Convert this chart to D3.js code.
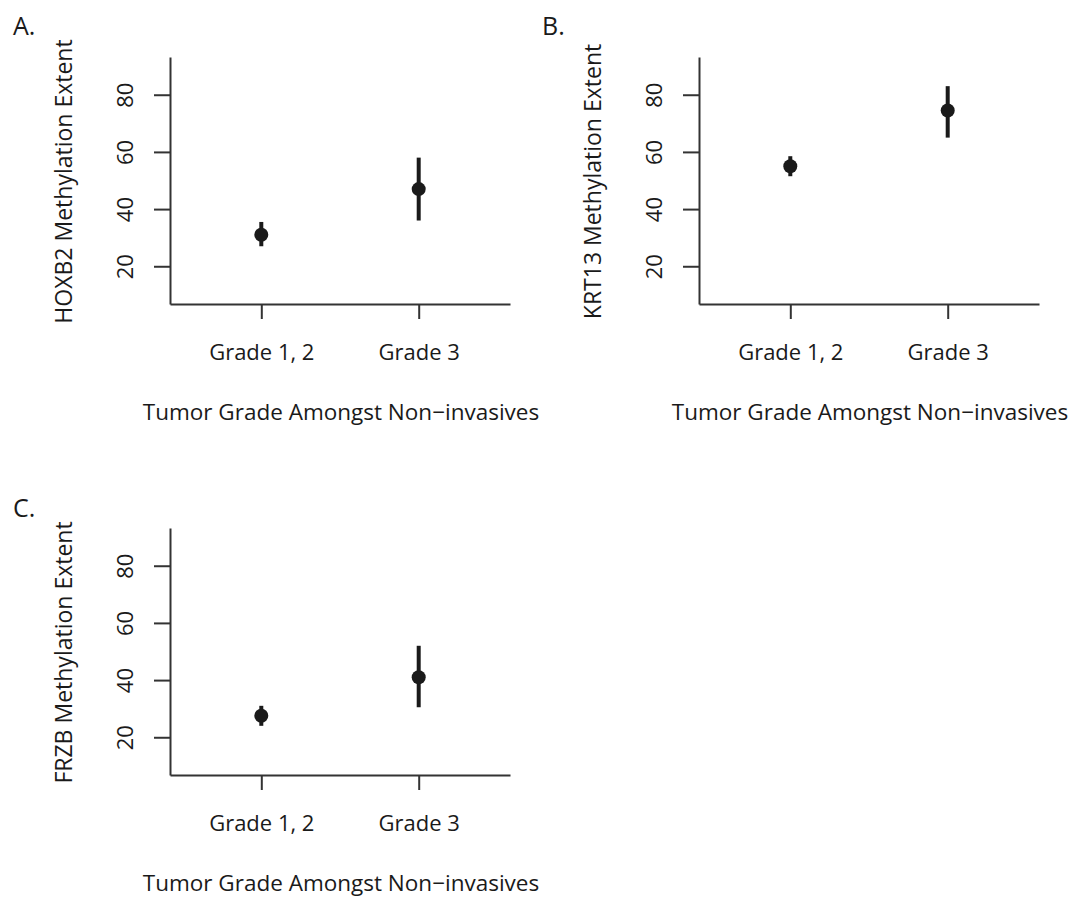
<html>
<head>
<title>methylation by grade</title>
<script src="https://cdnjs.cloudflare.com/ajax/libs/d3/7.8.5/d3.min.js"></script>
<style>
  body { margin:0; padding:0; background:#fff; }
  text { font-family: "Open Sans", "Noto Sans", sans-serif; fill:#1a1a1a; }
  .axis path, .axis line { stroke:#333; stroke-width:2; }
</style>
</head>
<body>
<svg id="chart" width="1072" height="898"></svg>
<script>
// data
var categories = ["Grade 1, 2", "Grade 3"];
var catPos = [1, 2];
var genes = ["HOXB2", "KRT13", "FRZB"];
var letters = ["A.", "B.", "C."];
var yTicks = [20, 40, 60, 80];

var means = {HOXB2: [31, 47], KRT13: [55, 74.5], FRZB: [27.5, 41]};
var lower = {HOXB2: [27, 36], KRT13: [51.5, 65], FRZB: [24, 30.5]};
var upper = {HOXB2: [35.5, 58], KRT13: [58.5, 83], FRZB: [31, 52]};

var xTitle = "Tumor Grade Amongst Non\u2212invasives";

// panel placement
var panels = [
  {gene: "HOXB2", dx: 0,   dy: 0,   letterY: 35},
  {gene: "KRT13", dx: 529, dy: 0,   letterY: 35},
  {gene: "FRZB",  dx: 0,   dy: 471, letterY: 46}
];

var svg = d3.select("#chart");

var x = d3.scaleLinear().domain([0.42, 2.58]).range([170, 510]);
var y = d3.scaleLinear().domain([6.8, 93.2]).range([304, 57]);

panels.forEach(function(p, i) {
  var g = svg.append("g").attr("transform", "translate(" + p.dx + "," + p.dy + ")");

  g.append("text")
    .attr("x", 13).attr("y", p.letterY)
    .style("font-size", "25px")
    .text(letters[i]);

  // y axis
  var ya = g.append("g").attr("class", "axis")
    .attr("transform", "translate(170,0)")
    .call(d3.axisLeft(y).tickValues(yTicks).tickSize(16).tickSizeOuter(0));
  ya.selectAll("text")
    .attr("x", null).attr("dy", null).attr("y", 0)
    .attr("transform", "translate(-37,0) rotate(-90)")
    .attr("text-anchor", "middle")
    .style("font-size", "22px")
    .style("font-family", null);

  // x axis
  var xa = g.append("g").attr("class", "axis")
    .attr("transform", "translate(0,304)")
    .call(d3.axisBottom(x).tickValues(catPos).tickSize(15).tickSizeOuter(0)
      .tickFormat(function(d, j) { return categories[j]; }));
  xa.selectAll("text")
    .attr("dy", null).attr("y", 56)
    .style("font-size", "22px")
    .style("font-family", null);

  svg.selectAll(".axis").attr("font-family", null).attr("font-size", null);

  // axis titles
  g.append("text")
    .attr("transform", "translate(72," + ((57 + 304) / 2 + 1) + ") rotate(-90)")
    .attr("text-anchor", "middle")
    .style("font-size", "23px")
    .text(p.gene + " Methylation Extent");

  g.append("text")
    .attr("x", 341).attr("y", 420)
    .attr("text-anchor", "middle")
    .style("font-size", "22.5px")
    .text(xTitle);

  // error bars + points
  g.selectAll("line.err")
    .data(catPos)
    .enter().append("line")
    .attr("class", "err")
    .attr("x1", function(d) { return x(d); })
    .attr("x2", function(d) { return x(d); })
    .attr("y1", function(d, j) { return y(lower[p.gene][j]); })
    .attr("y2", function(d, j) { return y(upper[p.gene][j]); })
    .attr("stroke", "#1a1a1a")
    .attr("stroke-width", 4);

  g.selectAll("circle.pt")
    .data(catPos)
    .enter().append("circle")
    .attr("class", "pt")
    .attr("cx", function(d) { return x(d); })
    .attr("cy", function(d, j) { return y(means[p.gene][j]); })
    .attr("r", 7)
    .attr("fill", "#1a1a1a");
});
</script>
</body>
</html>
